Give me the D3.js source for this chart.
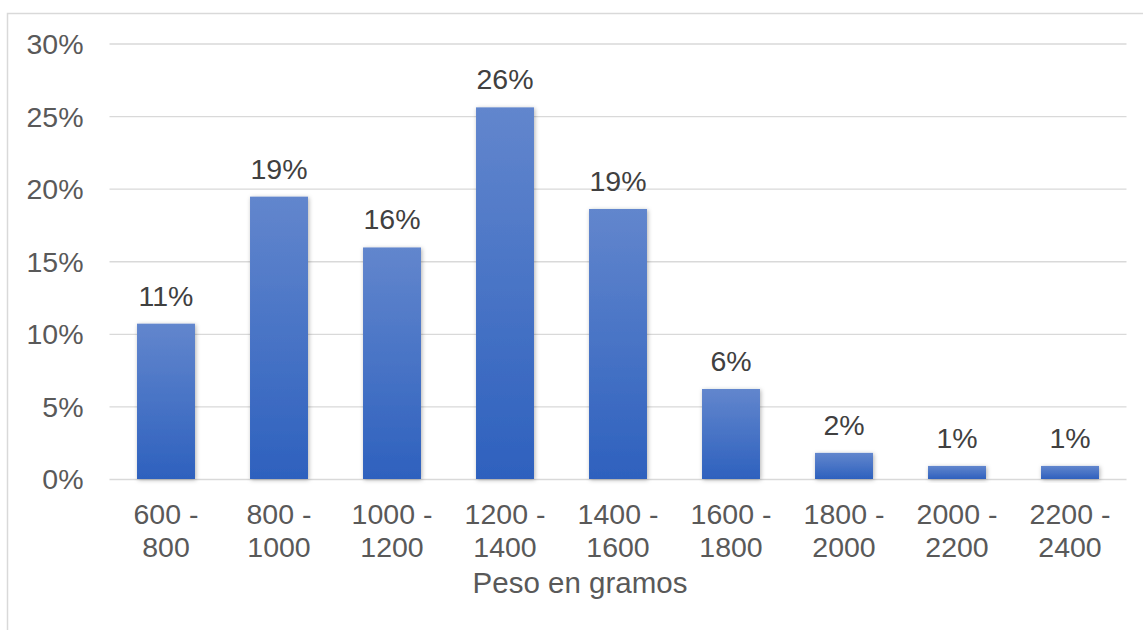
<!DOCTYPE html>
<html>
<head>
<meta charset="utf-8">
<script src="https://cdn.jsdelivr.net/npm/d3@7"></script>
<style>
  html, body { margin: 0; padding: 0; background: #ffffff; }
  svg { display: block; }
  text { font-family: "Liberation Sans", Arial, sans-serif; }
</style>
</head>
<body>
<svg id="chart" width="1143" height="630"></svg>
<script>
// Weight ranges (grams) and share of cases in each range (%)
const categories = [
  "600 - 800", "800 - 1000", "1000 - 1200", "1200 - 1400", "1400 - 1600",
  "1600 - 1800", "1800 - 2000", "2000 - 2200", "2200 - 2400"
];
const shares = [10.7, 19.45, 15.95, 25.6, 18.6, 6.2, 1.8, 0.9, 0.9];
const yTicks = [0, 5, 10, 15, 20, 25, 30];
const axisTitle = "Peso en gramos";

const W = 1143, H = 630;
const margin = { left: 109.5, right: 16.5, top: 43.5, bottom: 151 };
const plotW = W - margin.left - margin.right;
const plotH = H - margin.top - margin.bottom;
const labelSize = "28.5px";

const svg = d3.select("#chart");

// Chart area frame (light gray)
svg.append("rect")
  .attr("x", 7.5).attr("y", 13.5)
  .attr("width", W + 10).attr("height", H + 10)
  .attr("fill", "#ffffff")
  .attr("stroke", "#d9d9d9").attr("stroke-width", 1.5);

const defs = svg.append("defs");
const grad = defs.append("linearGradient")
  .attr("id", "barFill").attr("x1", 0).attr("y1", 0).attr("x2", 0).attr("y2", 1);
grad.append("stop").attr("offset", "0%").attr("stop-color", "#6286cd");
grad.append("stop").attr("offset", "100%").attr("stop-color", "#2e61be");

const shadow = defs.append("filter").attr("id", "barShadow")
  .attr("x", "-30%").attr("y", "-30%").attr("width", "160%").attr("height", "160%");
shadow.append("feDropShadow")
  .attr("dx", 1).attr("dy", 1).attr("stdDeviation", 2)
  .attr("flood-color", "#000000").attr("flood-opacity", 0.3);

const g = svg.append("g").attr("transform", `translate(${margin.left},${margin.top})`);

const x = d3.scaleBand().domain(categories).range([0, plotW])
  .paddingInner(0.487).paddingOuter(0.2435);
const y = d3.scaleLinear().domain([0, 30]).range([plotH, 0]);

// Horizontal gridlines + percent labels
const yAxis = g.append("g")
  .call(d3.axisLeft(y).tickValues(yTicks).tickSize(-plotW).tickPadding(26)
    .tickFormat(d => d + "%"));
yAxis.select(".domain").remove();
yAxis.selectAll(".tick line").attr("stroke", "#d9d9d9").attr("stroke-width", 1.4);
yAxis.selectAll(".tick text")
  .attr("fill", "#595959").attr("font-size", labelSize)
  .attr("dy", "0.35em");

// Bars
g.selectAll("rect.bar")
  .data(shares)
  .join("rect")
  .attr("class", "bar")
  .attr("x", (d, i) => x(categories[i]))
  .attr("y", d => y(d))
  .attr("width", x.bandwidth())
  .attr("height", d => y(0) - y(d))
  .attr("fill", "url(#barFill)")
  .attr("filter", "url(#barShadow)");

// Value labels above bars
g.selectAll("text.value")
  .data(shares)
  .join("text")
  .attr("class", "value")
  .attr("x", (d, i) => x(categories[i]) + x.bandwidth() / 2)
  .attr("y", d => y(d) - 18)
  .attr("text-anchor", "middle")
  .attr("fill", "#404040")
  .attr("font-size", labelSize)
  .text(d => Math.round(d) + "%");

// Category axis with two-line labels
const xAxis = g.append("g")
  .attr("transform", `translate(0,${plotH})`)
  .call(d3.axisBottom(x).tickSize(0).tickPadding(0));
xAxis.select(".domain").remove();
xAxis.selectAll(".tick text")
  .attr("fill", "#595959").attr("font-size", labelSize)
  .attr("y", 0).attr("dy", null)
  .each(function (d) {
    const parts = d.split(" - ");
    const t = d3.select(this).text(null);
    t.append("tspan").attr("x", 0).attr("y", 44.5).text(parts[0] + " -");
    t.append("tspan").attr("x", 0).attr("y", 77.5).text(parts[1]);
  });

// Axis title
svg.append("text")
  .attr("x", 580).attr("y", 593)
  .attr("text-anchor", "middle")
  .attr("fill", "#595959").attr("font-size", "29.5px")
  .text(axisTitle);
</script>
</body>
</html>
